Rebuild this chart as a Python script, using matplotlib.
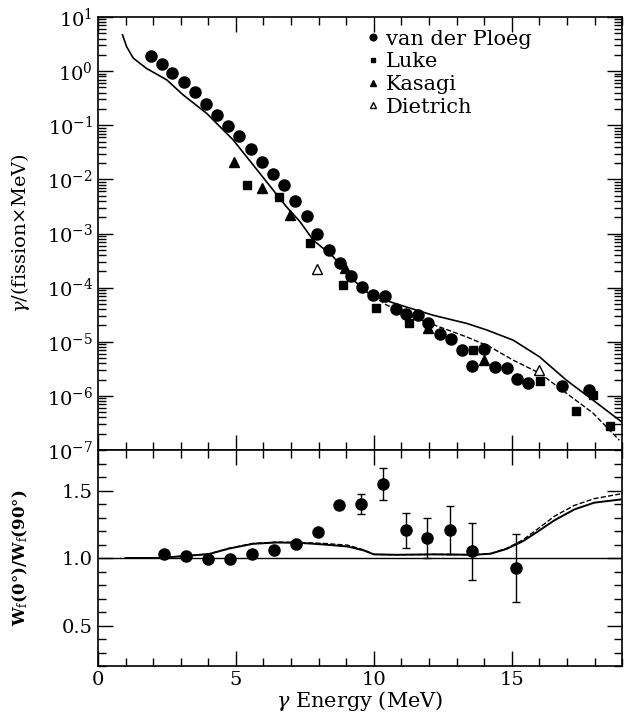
import numpy as np
import matplotlib
matplotlib.use('Agg')
import matplotlib.pyplot as plt
from matplotlib.ticker import MultipleLocator, LogLocator, NullFormatter, LogFormatterSciNotation

plt.rcParams['font.family'] = 'DejaVu Serif'
plt.rcParams['mathtext.fontset'] = 'dejavuserif'

# --- top panel: gamma spectrum -------------------------------------------
ploeg_E = [1.91, 2.32, 2.70, 3.12, 3.53, 3.92, 4.32, 4.72, 5.12, 5.53, 5.94, 6.35,
           6.74, 7.15, 7.56, 7.95, 8.37, 8.77, 9.17, 9.57, 9.98, 10.39, 10.80, 11.18,
           11.59, 11.98, 12.39, 12.80, 13.19, 13.57, 13.99, 14.40, 14.81, 15.19,
           15.60, 16.81, 17.80]
ploeg_log = [0.279, 0.126, -0.029, -0.20, -0.386, -0.60, -0.805, -1.014, -1.20, -1.44,
             -1.68, -1.90, -2.11, -2.39, -2.67, -3.00, -3.31, -3.54, -3.79, -3.99,
             -4.14, -4.16, -4.40, -4.49, -4.51, -4.66, -4.86, -4.95, -5.16, -5.45,
             -5.13, -5.47, -5.49, -5.69, -5.77, -5.81, -5.89]
luke_E = [5.41, 6.55, 7.70, 8.89, 10.07, 11.26, 13.60, 16.01, 17.32, 17.95, 18.55]
luke_log = [-2.11, -2.33, -3.18, -3.95, -4.37, -4.65, -5.15, -5.72, -6.27, -5.98, -6.56]
kasagi_E = [4.94, 5.94, 6.96, 8.95, 11.98, 13.99]
kasagi_log = [-1.68, -2.15, -2.66, -3.64, -4.75, -5.33]
dietrich_E = [7.95, 16.0]
dietrich_log = [-3.65, -5.52]

calc_E = [0.89, 1.04, 1.28, 1.76, 2.49, 3.09, 3.94, 4.90, 5.87, 6.84, 7.32, 7.80,
          8.53, 9.13, 9.74, 10.22, 10.94, 12.15, 13.36, 14.08, 15.05, 16.01, 16.98,
          17.95, 19.06]
calc_log = [0.67, 0.45, 0.24, 0.05, -0.16, -0.44, -0.78, -1.27, -1.89, -2.51, -2.78,
            -3.12, -3.43, -3.80, -4.08, -4.20, -4.32, -4.51, -4.66, -4.78, -4.97,
            -5.28, -5.71, -6.08, -6.51]
calc2_E = [9.74, 10.46, 11.55, 12.51, 13.36, 14.20, 15.05, 16.01, 16.98, 17.95, 18.90]
calc2_log = [-4.08, -4.32, -4.57, -4.75, -4.91, -5.09, -5.34, -5.58, -5.95, -6.32, -6.82]

# --- bottom panel: anisotropy ----------------------------------------------
ani_E = [2.40, 3.19, 3.99, 4.79, 5.58, 6.39, 7.17, 7.97, 8.75, 9.55, 10.33, 11.15,
         11.94, 12.75, 13.55, 15.14]
ani_val = [1.032, 1.015, 0.995, 0.995, 1.032, 1.06, 1.105, 1.19, 1.39, 1.40, 1.547,
           1.207, 1.148, 1.207, 1.049, 0.927]
ani_err = [0, 0, 0, 0, 0, 0, 0, 0, 0.025, 0.073, 0.12, 0.13, 0.15, 0.175, 0.21, 0.25]

ani_calc_E = [1.0, 2.16, 3.17, 4.03, 4.75, 5.61, 6.47, 7.34, 8.20, 9.06, 9.64, 10.0,
              10.79, 12.23, 13.67, 14.24, 14.82, 15.40, 15.97, 16.55, 17.27, 17.99, 18.92, 19.0]
ani_calc = [1.0, 1.0, 1.015, 1.03, 1.07, 1.105, 1.115, 1.112, 1.10, 1.085, 1.056, 1.027,
            1.024, 1.027, 1.024, 1.032, 1.068, 1.124, 1.20, 1.28, 1.36, 1.41, 1.433, 1.435]
ani_calc2 = [1.0, 1.0, 1.015, 1.03, 1.072, 1.108, 1.118, 1.115, 1.108, 1.095, 1.06, 1.027,
             1.024, 1.027, 1.024, 1.034, 1.072, 1.134, 1.22, 1.31, 1.39, 1.44, 1.474, 1.476]

fig = plt.figure(figsize=(6.24, 7.15), dpi=100)
ax1 = fig.add_axes([0.157, 0.3706, 0.840, 0.6056])
ax2 = fig.add_axes([0.157, 0.0685, 0.840, 0.3021])

ax1.plot(calc_E, 10**np.array(calc_log), 'k-', lw=1.2)
ax1.plot(calc2_E, 10**np.array(calc2_log), 'k--', lw=1.0)
ax1.plot(ploeg_E, 10**np.array(ploeg_log), 'ko', ms=8, ls='none', label='van der Ploeg')
ax1.plot(luke_E, 10**np.array(luke_log), 'ks', ms=5.5, ls='none', label='Luke')
ax1.plot(kasagi_E, 10**np.array(kasagi_log), 'k^', ms=6.5, ls='none', label='Kasagi')
ax1.plot(dietrich_E, 10**np.array(dietrich_log), '^', mfc='white', mec='k', mew=1.0,
         ms=6.5, ls='none', label='Dietrich')

ax1.set_yscale('log')
ax1.set_ylim(1e-7, 10)
ax1.set_xlim(0, 19)
ax1.yaxis.set_major_locator(LogLocator(base=10, numticks=20))
ax1.yaxis.set_minor_locator(LogLocator(base=10, subs=np.arange(2, 10), numticks=20))
ax1.yaxis.set_minor_formatter(NullFormatter())
ax1.yaxis.set_major_formatter(LogFormatterSciNotation())
ax1.xaxis.set_major_locator(MultipleLocator(5))
ax1.xaxis.set_minor_locator(MultipleLocator(1))
ax1.tick_params(axis='x', labelbottom=False)
ax1.set_ylabel(r'$\gamma$/(fission$\times$MeV)', fontsize=14)
ax1.yaxis.set_label_coords(-0.125, 0.5)

leg = ax1.legend(loc='upper left', bbox_to_anchor=(0.49, 1.0), frameon=False,
                 fontsize=15, markerscale=0.6, handlelength=0.5, handletextpad=0.4,
                 labelspacing=0.18, borderaxespad=0.2)

ax2.axhline(1.0, color='k', lw=1.0)
ax2.plot(ani_calc_E, ani_calc, 'k-', lw=1.4)
ax2.plot(ani_calc_E, ani_calc2, 'k--', lw=1.0)
ax2.errorbar(ani_E, ani_val, yerr=ani_err, fmt='ko', ms=8, ecolor='k', elinewidth=1.0,
             capsize=3, capthick=1.0)
ax2.set_xlim(0, 19)
ax2.set_ylim(0.2, 1.8)
ax2.xaxis.set_major_locator(MultipleLocator(5))
ax2.xaxis.set_minor_locator(MultipleLocator(1))
ax2.yaxis.set_major_locator(MultipleLocator(0.5))
ax2.yaxis.set_minor_locator(MultipleLocator(0.1))
ax2.set_xlabel(r'$\gamma$ Energy (MeV)', fontsize=15, labelpad=0)
ax2.set_ylabel(r'W$_{\rm f}$(0°)/W$_{\rm f}$(90°)', fontsize=12, fontweight='bold')
ax2.yaxis.set_label_coords(-0.13, 0.5)

for ax in (ax1, ax2):
    ax.tick_params(which='both', direction='in', top=True, right=True, labelsize=14, width=1.0)
    ax.tick_params(which='major', length=11)
    ax.tick_params(which='minor', length=6)
    for s in ax.spines.values():
        s.set_linewidth(1.2)

fig.savefig('out.png', dpi=100)
